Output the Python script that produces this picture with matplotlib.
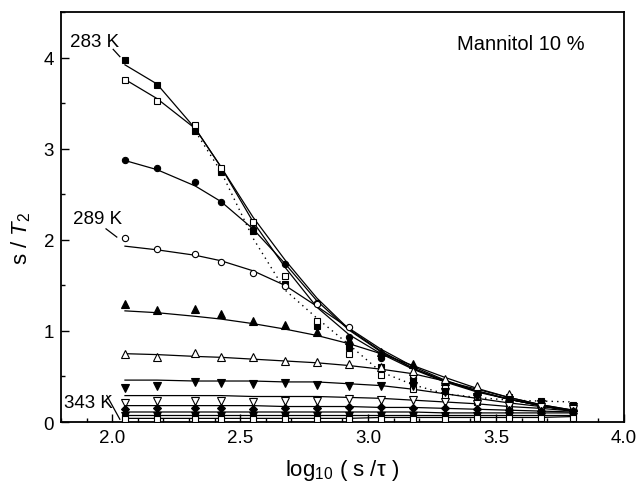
import matplotlib
matplotlib.use("Agg")
import matplotlib.pyplot as plt
from matplotlib.ticker import MultipleLocator

plt.rcParams['font.family'] = ['Liberation Sans', 'DejaVu Sans']
plt.rcParams['mathtext.fontset'] = 'custom'
plt.rcParams['mathtext.rm'] = 'Liberation Sans'
plt.rcParams['mathtext.it'] = 'Liberation Sans:italic'

# x positions log10(s/tau)
x_vals = [2.05, 2.175, 2.325, 2.425, 2.55, 2.675, 2.8, 2.925, 3.05, 3.175, 3.3, 3.425, 3.55, 3.675, 3.8]

# measured points (marker series, 283 K at top ... 343 K at bottom)
sq_filled = [3.97, 3.70, 3.19, 2.74, 2.10, 1.52, 1.05, 0.82, 0.60, 0.44, 0.34, 0.29, 0.27, 0.23, 0.19]
sq_open = [3.75, 3.52, 3.26, 2.79, 2.19, 1.60, 1.11, 0.75, 0.52, 0.36, 0.28, 0.22, 0.18, 0.15, 0.14]
circ_filled = [2.88, 2.79, 2.63, 2.42, 2.12, 1.73, 1.31, 0.93, 0.70, 0.48, 0.36, 0.28, 0.22, 0.17, 0.14]
circ_open = [2.02, 1.90, 1.84, 1.76, 1.64, 1.49, 1.29, 1.04, 0.76, 0.52, 0.38, 0.28, 0.22, 0.17, 0.13]
tri_up_filled = [1.29, 1.23, 1.24, 1.19, 1.11, 1.06, 0.99, 0.90, 0.77, 0.64, 0.45, 0.34, 0.27, 0.21, 0.16]
tri_up_open = [0.75, 0.71, 0.76, 0.71, 0.71, 0.67, 0.66, 0.64, 0.60, 0.56, 0.47, 0.39, 0.31, 0.22, 0.16]
tri_dn_filled = [0.37, 0.40, 0.44, 0.43, 0.42, 0.43, 0.41, 0.40, 0.40, 0.39, 0.33, 0.28, 0.24, 0.20, 0.16]
tri_dn_open = [0.21, 0.23, 0.23, 0.23, 0.22, 0.23, 0.23, 0.25, 0.24, 0.24, 0.22, 0.20, 0.18, 0.16, 0.14]
diamond_filled = [0.14, 0.15, 0.15, 0.15, 0.14, 0.15, 0.15, 0.16, 0.16, 0.15, 0.15, 0.14, 0.13, 0.12, 0.12]
star_filled = [0.10, 0.10, 0.10, 0.10, 0.10, 0.10, 0.10, 0.10, 0.10, 0.10, 0.10, 0.10, 0.10, 0.09, 0.09]
sq_small_filled = [0.06, 0.06, 0.06, 0.06, 0.06, 0.06, 0.06, 0.06, 0.06, 0.06, 0.07, 0.07, 0.07, 0.07, 0.07]
sq_small_open = [0.03, 0.03, 0.03, 0.03, 0.03, 0.03, 0.03, 0.03, 0.03, 0.03, 0.03, 0.04, 0.04, 0.04, 0.04]

# fitted curves (solid lines) at the same x positions
fit_sq_filled = [3.92, 3.71, 3.22, 2.80, 2.25, 1.78, 1.36, 1.02, 0.78, 0.59, 0.45, 0.34, 0.25, 0.18, 0.12]
fit_sq_open = [3.76, 3.55, 3.22, 2.80, 2.20, 1.70, 1.26, 0.96, 0.75, 0.58, 0.44, 0.33, 0.25, 0.18, 0.12]
fit_circ_filled = [2.87, 2.77, 2.59, 2.42, 2.12, 1.74, 1.33, 1.01, 0.77, 0.59, 0.45, 0.34, 0.25, 0.18, 0.12]
fit_circ_open = [1.93, 1.89, 1.83, 1.77, 1.66, 1.50, 1.27, 1.03, 0.80, 0.61, 0.46, 0.34, 0.25, 0.18, 0.12]
fit_tri_up_filled = [1.22, 1.20, 1.16, 1.13, 1.08, 1.02, 0.95, 0.86, 0.75, 0.62, 0.49, 0.37, 0.27, 0.19, 0.13]
fit_tri_up_open = [0.75, 0.74, 0.72, 0.71, 0.69, 0.67, 0.65, 0.62, 0.58, 0.53, 0.45, 0.36, 0.27, 0.19, 0.13]
fit_tri_dn_filled = [0.46, 0.46, 0.45, 0.45, 0.45, 0.44, 0.44, 0.42, 0.40, 0.36, 0.31, 0.26, 0.21, 0.17, 0.13]
fit_tri_dn_open = [0.29, 0.29, 0.29, 0.29, 0.28, 0.28, 0.28, 0.27, 0.26, 0.24, 0.22, 0.20, 0.17, 0.15, 0.12]
fit_diamond_filled = [0.18, 0.18, 0.18, 0.18, 0.18, 0.17, 0.17, 0.17, 0.16, 0.16, 0.15, 0.14, 0.13, 0.12, 0.11]
fit_star_filled = [0.11, 0.11, 0.11, 0.11, 0.11, 0.11, 0.11, 0.11, 0.11, 0.11, 0.10, 0.10, 0.10, 0.10, 0.10]
fit_sq_small_filled = [0.08, 0.08, 0.08, 0.08, 0.08, 0.08, 0.08, 0.08, 0.08, 0.08, 0.08, 0.08, 0.08, 0.08, 0.08]
fit_sq_small_open = [0.04, 0.04, 0.04, 0.04, 0.04, 0.04, 0.04, 0.04, 0.05, 0.05, 0.05, 0.05, 0.05, 0.05, 0.06]

# dotted guide line (from x = 2.325 on)
dotted_x = [2.325, 2.425, 2.55, 2.675, 2.8, 2.925, 3.05, 3.175, 3.3, 3.425, 3.55, 3.675, 3.8]
dotted_y = [3.19, 2.75, 2.02, 1.45, 1.14, 0.85, 0.55, 0.41, 0.31, 0.27, 0.24, 0.23, 0.22]

series = [
    (sq_filled, fit_sq_filled, 's', 'black'),
    (sq_open, fit_sq_open, 's', 'white'),
    (circ_filled, fit_circ_filled, 'o', 'black'),
    (circ_open, fit_circ_open, 'o', 'white'),
    (tri_up_filled, fit_tri_up_filled, '^', 'black'),
    (tri_up_open, fit_tri_up_open, '^', 'white'),
    (tri_dn_filled, fit_tri_dn_filled, 'v', 'black'),
    (tri_dn_open, fit_tri_dn_open, 'v', 'white'),
    (diamond_filled, fit_diamond_filled, 'D', 'black'),
    (star_filled, fit_star_filled, '*', 'black'),
    (sq_small_filled, fit_sq_small_filled, 's', 'black'),
    (sq_small_open, fit_sq_small_open, 's', 'white'),
]

fig = plt.figure(figsize=(6.4, 4.85), dpi=100)
ax = fig.add_axes([0.0953, 0.1278, 0.8797, 0.8454])

for pts, fit, mk, fc in series:
    ax.plot(x_vals, fit, '-', color='black', lw=0.9, zorder=2)
for pts, fit, mk, fc in series:
    ms = 5.5 if mk in ('^', 'v') else (6.5 if mk == '*' else 4.5)
    if mk == 'D':
        ms = 4
    ax.plot(x_vals, pts, linestyle='none', marker=mk, ms=ms, mfc=fc,
            mec='black', mew=0.8, zorder=3)

ax.plot(dotted_x, dotted_y, linestyle=(0, (1, 3)), color='black', lw=1.0, zorder=2)

# annotations
ax.text(1.931, 4.18, '283 K', ha='center', va='center', fontsize=13.5)
ax.plot([2.004, 2.03], [4.09, 4.01], color='black', lw=0.9)
ax.text(1.941, 2.23, '289 K', ha='center', va='center', fontsize=13.5)
ax.plot([1.976, 2.018], [2.12, 2.03], color='black', lw=0.9)
ax.text(1.907, 0.21, '343 K', ha='center', va='center', fontsize=13.5)
ax.plot([1.979, 2.03], [0.29, 0.03], color='black', lw=0.9)
ax.text(3.598, 4.15, 'Mannitol 10 %', ha='center', va='center', fontsize=14.5)

ax.set_xlim(1.8, 4.0)
ax.set_ylim(0, 4.5)
ax.xaxis.set_major_locator(MultipleLocator(0.5))
ax.xaxis.set_minor_locator(MultipleLocator(0.1))
ax.yaxis.set_major_locator(MultipleLocator(1))
ax.yaxis.set_minor_locator(MultipleLocator(0.5))
ax.set_xticks([2.0, 2.5, 3.0, 3.5, 4.0])
ax.set_xticklabels(['2.0', '2.5', '3.0', '3.5', '4.0'])
ax.set_yticks([0, 1, 2, 3, 4])
ax.set_yticklabels(['0', '1', '2', '3', '4'])
ax.tick_params(which='both', direction='in', top=False, right=False, labelsize=13.5, width=1.0)
ax.tick_params(which='major', length=6, pad=5)
ax.tick_params(which='minor', length=3)
for sp in ax.spines.values():
    sp.set_linewidth(1.3)

ax.set_xlabel(r'log$_{10}$ ( s /τ )', fontsize=16)
ax.set_ylabel(r's / $T_2$', fontsize=16)
ax.xaxis.set_label_coords(0.5, -0.085)
ax.yaxis.set_label_coords(-0.05, 0.45)

fig.savefig('out.png', dpi=100)
